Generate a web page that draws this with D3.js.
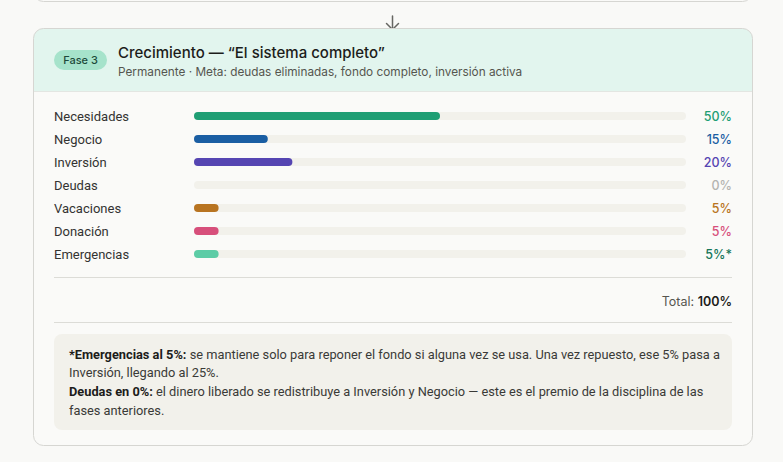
<!DOCTYPE html>
<html>
<head>
<meta charset="utf-8">
<script src="https://cdn.jsdelivr.net/npm/d3@7"></script>
<style>
  html, body { margin: 0; padding: 0; background: #f9f9f7; }
  svg { display: block; font-family: "Inter", "Noto Sans", sans-serif; }
</style>
</head>
<body>
<div id="chart"></div>
<script>
// categorias y valores (porcentaje del ingreso)
var categorias = ["Necesidades", "Negocio", "Inversión", "Deudas", "Vacaciones", "Donación", "Emergencias"];
var valores = [50, 15, 20, 0, 5, 5, 5];
var etiquetas = ["50%", "15%", "20%", "0%", "5%", "5%", "5%*"];
var coloresBarra = ["#1f9e74", "#1a5ea3", "#5545b2", "#c8c8c2", "#b87421", "#d74f7b", "#5ccca6"];
var coloresTexto = ["#1f9e74", "#1a5ea3", "#5545b2", "#b4b4b0", "#b87421", "#d74f7b", "#16765a"];

var fase = "Fase 3";
var titulo = "Crecimiento — “El sistema completo”";
var subtitulo = "Permanente · Meta: deudas eliminadas, fondo completo, inversión activa";
var totalTexto = "100%";

// nota: cada linea es una lista de trozos [texto, negrita]
var nota = [
  [["*Emergencias al 5%:", true], [" se mantiene solo para reponer el fondo si alguna vez se usa. Una vez repuesto, ese 5% pasa a", false]],
  [["Inversión, llegando al 25%.", false]],
  [["Deudas en 0%:", true], [" el dinero liberado se redistribuye a Inversión y Negocio — este es el premio de la disciplina de las", false]],
  [["fases anteriores.", false]]
];

var width = 783;
var height = 462;
var fuenteEstrecha = "Roboto, 'Liberation Sans', sans-serif";

var svg = d3.select("#chart").append("svg")
    .attr("width", width)
    .attr("height", height);

// tarjeta anterior (solo se ve el borde de abajo)
svg.append("rect")
    .attr("x", 33.5).attr("y", -60)
    .attr("width", 719).attr("height", 61.5)
    .attr("rx", 10)
    .attr("fill", "#fafaf8")
    .attr("stroke", "#d6d6d2");

// flecha
var flecha = svg.append("g")
    .attr("fill", "none")
    .attr("stroke", "#666662")
    .attr("stroke-width", 1.5)
    .attr("stroke-linecap", "round");
flecha.append("path").attr("d", "M392.5,16 L392.5,29.5");
flecha.append("path").attr("d", "M386.5,23.5 L392.5,29.5 L398.5,23.5");

// tarjeta
var clip = svg.append("clipPath").attr("id", "card");
clip.append("rect")
    .attr("x", 33.5).attr("y", 28.5)
    .attr("width", 719).attr("height", 417)
    .attr("rx", 10);

svg.append("rect")
    .attr("x", 33.5).attr("y", 28.5)
    .attr("width", 719).attr("height", 417)
    .attr("rx", 10)
    .attr("fill", "#fafaf8");

svg.append("rect")
    .attr("clip-path", "url(#card)")
    .attr("x", 33).attr("y", 28)
    .attr("width", 720).attr("height", 63.5)
    .attr("fill", "#e2f5ee");

svg.append("line")
    .attr("x1", 33.5).attr("x2", 752.5)
    .attr("y1", 91.5).attr("y2", 91.5)
    .attr("stroke", "#e3e6e2");

svg.append("rect")
    .attr("x", 33.5).attr("y", 28.5)
    .attr("width", 719).attr("height", 417)
    .attr("rx", 10)
    .attr("fill", "none")
    .attr("stroke", "#d6d6d2");

// cabecera
svg.append("rect")
    .attr("x", 54).attr("y", 50)
    .attr("width", 53).attr("height", 20)
    .attr("rx", 10)
    .attr("fill", "#a6e3cb");
svg.append("text")
    .attr("x", 80.5).attr("y", 64)
    .attr("text-anchor", "middle")
    .attr("font-size", 11)
    .attr("font-weight", 500)
    .attr("fill", "#1d4a3a")
    .text(fase);

svg.append("text")
    .attr("x", 118).attr("y", 58)
    .attr("font-size", 15)
    .attr("font-weight", 500)
    .attr("fill", "#1c1c1a")
    .text(titulo);

svg.append("text")
    .attr("x", 118).attr("y", 76)
    .attr("font-size", 11.8)
    .attr("fill", "#55554f")
    .text(subtitulo);

// escalas
var x = d3.scaleLinear().domain([0, 100]).range([194, 686]);
var y = d3.scaleBand().domain(categorias).range([104.5, 265.5]);
var barH = 8;

var filas = svg.selectAll("g.fila")
    .data(categorias)
    .enter()
    .append("g")
    .attr("class", "fila")
    .attr("transform", function(d){ return "translate(0," + (y(d) + y.bandwidth()/2) + ")"; });

filas.append("text")
    .attr("x", 54).attr("y", 4.5)
    .attr("font-family", fuenteEstrecha)
    .attr("font-size", 13)
    .attr("fill", "#333331")
    .text(function(d){ return d; });

filas.append("rect")
    .attr("x", x(0)).attr("y", -barH/2)
    .attr("width", x(100) - x(0)).attr("height", barH)
    .attr("rx", barH/2)
    .attr("fill", "#f2f1eb");

filas.append("rect")
    .attr("x", x(0)).attr("y", -barH/2)
    .attr("width", function(d,i){ return x(valores[i]) - x(0); })
    .attr("height", barH)
    .attr("rx", barH/2)
    .attr("fill", function(d,i){ return coloresBarra[i]; });

filas.append("text")
    .attr("x", 732).attr("y", 4.5)
    .attr("text-anchor", "end")
    .attr("font-size", 12.5)
    .attr("font-weight", 500)
    .attr("fill", function(d,i){ return coloresTexto[i]; })
    .text(function(d,i){ return etiquetas[i]; });

// total
svg.append("line")
    .attr("x1", 54).attr("x2", 732)
    .attr("y1", 277.5).attr("y2", 277.5)
    .attr("stroke", "#dcdcd7");

var total = svg.append("text")
    .attr("x", 732).attr("y", 306)
    .attr("text-anchor", "end")
    .attr("font-size", 12.5);
total.append("tspan").attr("fill", "#55554f").text("Total:  ");
total.append("tspan").attr("fill", "#1c1c1a").attr("font-weight", 600).text(totalTexto);

svg.append("line")
    .attr("x1", 54).attr("x2", 732)
    .attr("y1", 322.5).attr("y2", 322.5)
    .attr("stroke", "#dcdcd7");

// nota
svg.append("rect")
    .attr("x", 54).attr("y", 334)
    .attr("width", 678).attr("height", 96)
    .attr("rx", 8)
    .attr("fill", "#f2f1eb");

var lineas = svg.selectAll("text.nota")
    .data(nota)
    .enter()
    .append("text")
    .attr("class", "nota")
    .attr("x", 69)
    .attr("y", function(d,i){ return 358.5 + i*18.7; })
    .attr("font-family", fuenteEstrecha)
    .attr("font-size", 12.8)
    .attr("fill", "#3a3a37");

lineas.selectAll("tspan")
    .data(function(d){ return d; })
    .enter()
    .append("tspan")
    .attr("font-weight", function(d){ return d[1] ? 700 : 400; })
    .attr("fill", function(d){ return d[1] ? "#1c1c1a" : "#3a3a37"; })
    .text(function(d){ return d[0]; });
</script>
</body>
</html>
